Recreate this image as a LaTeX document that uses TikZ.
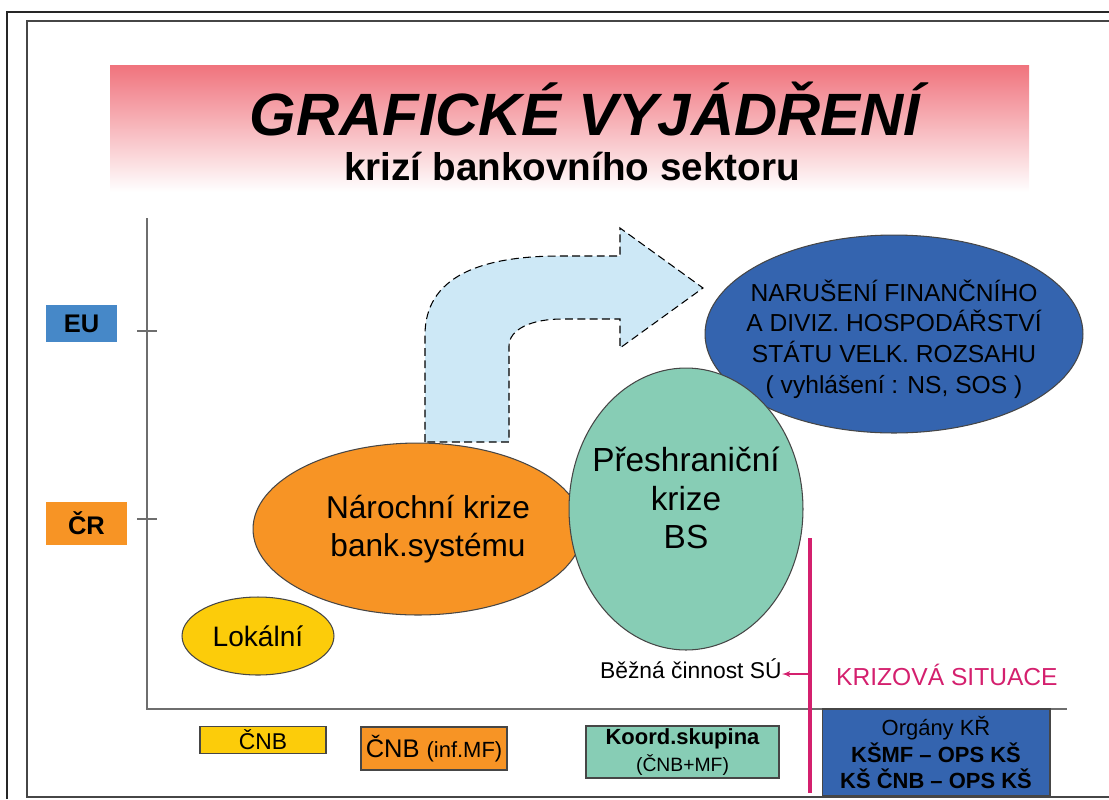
\documentclass[tikz,border=0pt]{standalone}
\usepackage{fontspec}
\setmainfont{Liberation Sans}
\usetikzlibrary{shapes,arrows}
\usetikzlibrary{positioning}
\definecolor{titlered}{RGB}{240,115,125}
\definecolor{arrowblue}{RGB}{205,232,246}
\definecolor{lokyellow}{RGB}{252,204,10}
\definecolor{narorange}{RGB}{247,148,37}
\definecolor{presteal}{RGB}{135,205,181}
\definecolor{narblue}{RGB}{52,100,175}
\definecolor{eublue}{RGB}{70,136,200}
\definecolor{krizmag}{RGB}{212,32,110}
\definecolor{axisgray}{RGB}{110,110,110}
\definecolor{edgegray}{RGB}{70,70,70}
\tikzstyle{blob} = [
        ellipse, draw=edgegray, line width=0.6pt,
        inner sep=0pt, align=center
    ]
\tikzstyle{tag} = [
        rectangle, draw=edgegray, line width=0.6pt,
        inner sep=0pt, align=center
    ]
\tikzstyle{level} = [rectangle, inner sep=0pt, font=\bfseries\fontsize{14.5}{16}\selectfont]
\tikzstyle{axis} = [draw=axisgray, line width=1pt]
\tikzstyle{line} = [draw, -latex']

\begin{document}
\begin{tikzpicture}[x=0.02cm, y=-0.02cm]
    \useasboundingbox (0,0) rectangle (1109,799);
    \draw [line width=1.5pt, black!85] (7,799) -- (7,12) -- (1109,12);
    \draw [line width=0.8pt, edgegray] (1109,21) -- (27,21) -- (27,797) -- (1109,797);

    \shade [top color=titlered, bottom color=white] (110,65) rectangle (1029,192);
    \node [anchor=base, font=\bfseries\itshape\fontsize{34}{40}\selectfont] (title) at (585,135) {GRAFICKÉ VYJÁDŘENÍ};
    \node [anchor=base, font=\bfseries\fontsize{22}{26}\selectfont] (subtitle) at (572,180) {krizí bankovního sektoru};

    \coordinate (origin) at (147,709);
    \coordinate (ytop) at (147,218);
    \coordinate (xend) at (1067,709);
    \draw [axis] (ytop) -- (origin) -- (xend);
    \draw [axis] (137,331) -- (157,331);
    \draw [axis] (137,519) -- (157,519);

    \node [level, fill=eublue, minimum width=1.42cm, minimum height=0.74cm] (EU) at (81.5,323.5) {EU};
    \node [level, fill=narorange, minimum width=1.62cm, minimum height=0.86cm] (CR) at (86.5,523.5) {ČR};

    \draw [fill=arrowblue, draw=black, dash pattern=on 4.5pt off 2.5pt, line width=0.6pt]
        (425,442) -- (425,335) .. controls (425,278) and (478,256) .. (560,256)
        -- (620,256) -- (620,228) -- (703,288) -- (620,348) -- (620,319) -- (562,319)
        .. controls (532,319) and (509,329) .. (509,346) -- (509,442) -- cycle;

    \node [blob, fill=narblue, minimum width=7.56cm, minimum height=3.96cm,
        label={[align=center, yshift=-0.1cm, font=\fontsize{14}{17.5}\selectfont]center:{NARUŠENÍ FINANČNÍHO\\A DIVIZ. HOSPODÁŘSTVÍ\\STÁTU VELK. ROZSAHU\\( vyhlášení : NS, SOS )}}]
        (narus) at (894,334) {};
    \node [blob, fill=narorange, minimum width=6.6cm, minimum height=3.44cm,
        label={[align=center, xshift=0.2cm, font=\fontsize{18}{22}\selectfont]center:{Nárochní krize\\bank.systému}}]
        (narodni) at (418,529) {};
    \node [blob, fill=presteal, minimum width=4.68cm, minimum height=5.64cm,
        label={[align=center, yshift=0.22cm, font=\fontsize{19}{22}\selectfont]center:{Přeshraniční\\krize\\BS}}]
        (preshr) at (686,509) {};
    \node [blob, fill=lokyellow, minimum width=3.04cm, minimum height=1.56cm,
        font=\fontsize{16}{19}\selectfont] (lokalni) at (258,636) {Lokální};

    \coordinate (ktop) at (810,538);
    \coordinate (kbot) at (810,793);
    \coordinate (kmid) at (810,674);
    \draw [krizmag, line width=1.8pt] (ktop) -- (kbot);
    \node [anchor=base west, text=krizmag, font=\fontsize{14}{16}\selectfont] (krize) at (830,685) {KRIZOVÁ SITUACE};
    \node [anchor=base east, inner sep=0pt, font=\fontsize{13}{15}\selectfont] (bezna) at (782,678) {Běžná činnost SÚ};
    \path [line, krizmag, line width=0.6pt] (kmid) -- (kmid -| bezna.east);

    \node [tag, fill=lokyellow, minimum width=2.52cm, minimum height=0.54cm,
        font=\fontsize{13}{15}\selectfont] (cnb) at (263,740) {ČNB};
    \node [tag, fill=narorange, minimum width=2.92cm, minimum height=0.86cm,
        font=\fontsize{14.5}{17}\selectfont] (cnbmf) at (434,748.5) {ČNB {\fontsize{12.5}{15}\selectfont(inf.MF)}};
    \node [tag, fill=presteal, minimum width=3.86cm, minimum height=1.04cm,
        font=\fontsize{11}{15}\selectfont] (koord) at (682.5,752) {{\bfseries\fontsize{12.5}{15}\selectfont Koord.skupina}\\(ČNB+MF)};
    \node [tag, fill=narblue, minimum width=4.56cm, minimum height=1.74cm,
        font=\fontsize{12.5}{15.3}\selectfont] (organy) at (936,752.5)
        {Orgány KŘ\\{\bfseries KŠMF – OPS KŠ}\\{\bfseries KŠ ČNB – OPS KŠ}};
\end{tikzpicture}
\end{document}
